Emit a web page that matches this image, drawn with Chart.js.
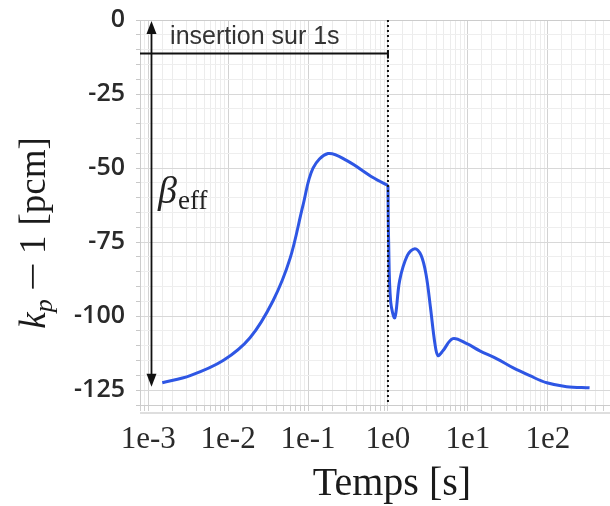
<!DOCTYPE html>
<html>
<head>
<meta charset="utf-8">
<script src="https://cdn.jsdelivr.net/npm/chart.js@4.4.1/dist/chart.umd.min.js"></script>
<style>
  html, body { margin: 0; padding: 0; background: #fff; }
  canvas { display: block; }
</style>
</head>
<body>
<canvas id="kp" width="610" height="506"></canvas>
<script>
// time in seconds, reactivity k_p - 1 in pcm
const times = [0.0015, 0.00335, 0.00866, 0.0188, 0.0365, 0.0596, 0.0866, 0.1155, 0.178, 0.307, 0.649, 1.0,
  1.02, 1.08, 1.22, 1.4, 1.75, 2.17, 2.6, 3.0, 3.4, 3.87, 4.22, 4.87, 6.49, 9.7, 14.1, 23.1, 36.5, 59.6, 97, 172, 333];
const kp = [-122.5, -120.1, -115.0, -107.3, -94.8, -80.5, -62.5, -50.0, -45.1, -47.5, -53.2, -55.9,
  -75, -95, -100.5, -88, -79.5, -77.2, -79.5, -86, -97, -109.3, -113.3, -111.7, -107.6, -109.3, -111.7, -114.4, -117.4, -120.1, -122.5, -123.8, -124.2];

const yTicks = [0, -25, -50, -75, -100, -125];
const xTickLabels = ['1e-3', '1e-2', '1e-1', '1e0', '1e1', '1e2'];

const insertionEnd = 1;      // s
const insertionLevel = -11.3;
const betaTop = -0.3, betaBottom = -123.8;
const betaX = 0.0011;

function isDecade(v) {
  const e = Math.log10(v);
  return Math.abs(e - Math.round(e)) < 1e-6;
}

const pts = times.map((t, i) => ({ x: t, y: kp[i] }));
const cut = times.indexOf(insertionEnd);

const annot = {
  id: 'annot',
  afterDatasetsDraw(chart) {
    const { ctx, chartArea: a } = chart;
    const x = chart.scales.x, y = chart.scales.y;
    ctx.save();
    // frame
    ctx.strokeStyle = '#cccccc';
    ctx.lineWidth = 1;
    ctx.strokeRect(a.left + 0.5, a.top + 0.5, a.right - a.left, a.bottom - a.top);
    ctx.beginPath();
    ctx.moveTo(a.left, a.bottom + 8);
    ctx.lineTo(a.right, a.bottom + 8);
    ctx.strokeStyle = '#bdbdbd';
    ctx.stroke();

    // dotted line at end of insertion
    const xe = x.getPixelForValue(insertionEnd);
    ctx.strokeStyle = '#111';
    ctx.lineWidth = 2;
    ctx.setLineDash([2, 3]);
    ctx.beginPath();
    ctx.moveTo(xe, a.top);
    ctx.lineTo(xe, a.bottom);
    ctx.stroke();
    ctx.setLineDash([]);

    // horizontal insertion line
    const yl = y.getPixelForValue(insertionLevel);
    ctx.beginPath();
    ctx.moveTo(a.left, yl);
    ctx.lineTo(xe, yl);
    ctx.moveTo(xe, yl - 3);
    ctx.lineTo(xe, yl + 5);
    ctx.stroke();

    // beta_eff double arrow
    const xb = x.getPixelForValue(betaX);
    const yt = y.getPixelForValue(betaTop), yb = y.getPixelForValue(betaBottom);
    ctx.lineWidth = 1.8;
    ctx.beginPath();
    ctx.moveTo(xb, yt + 10);
    ctx.lineTo(xb, yb - 10);
    ctx.stroke();
    ctx.fillStyle = '#111';
    ctx.beginPath();
    ctx.moveTo(xb, yt); ctx.lineTo(xb - 5, yt + 13); ctx.lineTo(xb + 5, yt + 13); ctx.closePath();
    ctx.fill();
    ctx.beginPath();
    ctx.moveTo(xb, yb); ctx.lineTo(xb - 5, yb - 13); ctx.lineTo(xb + 5, yb - 13); ctx.closePath();
    ctx.fill();

    // text
    ctx.fillStyle = '#333';
    ctx.font = '25px "Liberation Sans"';
    ctx.textBaseline = 'middle';
    ctx.textAlign = 'left';
    ctx.fillText('insertion sur 1s', x.getPixelForValue(0.00188), y.getPixelForValue(-5.9));

    // beta_eff
    const bx = x.getPixelForValue(0.00133), by = y.getPixelForValue(-58.3);
    ctx.fillStyle = '#222';
    ctx.textBaseline = 'alphabetic';
    ctx.font = 'italic 38px "Liberation Serif"';
    ctx.fillText('β', bx, by + 10);
    const bw = ctx.measureText('β').width;
    ctx.font = '27px "Liberation Serif"';
    ctx.fillText('eff', bx + bw + 1, by + 16);
    ctx.restore();
  },
  afterDraw(chart) {
    const { ctx } = chart;
    ctx.save();
    ctx.fillStyle = '#1a1a1a';
    // x title
    ctx.font = '40px "Liberation Serif"';
    ctx.textAlign = 'center';
    ctx.textBaseline = 'alphabetic';
    ctx.fillText('Temps [s]', 392, 495);

    // y title, rotated
    ctx.translate(45, 233);
    ctx.rotate(-Math.PI / 2);
    const big = 37, small = 26;
    const parts = [
      { t: 'k', f: 'italic ' + big + 'px "Liberation Serif"', dy: 0, gap: 0 },
      { t: 'p', f: 'italic ' + small + 'px "Liberation Serif"', dy: 7, gap: 8 },
      { t: '\u2212', f: big + 'px "Liberation Serif"', dy: 0, gap: 8, sx: 1.4 },
      { t: '1', f: big + 'px "Liberation Serif"', dy: 0, gap: 10 },
      { t: '[pcm]', f: big + 'px "Liberation Serif"', dy: 0, gap: 0 }
    ];
    let total = 0;
    parts.forEach(p => {
      ctx.font = p.f;
      p.w = ctx.measureText(p.t).width * (p.sx || 1);
      total += p.w + p.gap;
    });
    let cx = -total / 2;
    ctx.textAlign = 'left';
    parts.forEach(p => {
      ctx.font = p.f;
      if (p.sx) {
        ctx.save();
        ctx.translate(cx, p.dy);
        ctx.scale(p.sx, 1);
        ctx.fillText(p.t, 0, 0);
        ctx.restore();
      } else {
        ctx.fillText(p.t, cx, p.dy);
      }
      cx += p.w + p.gap;
    });
    ctx.restore();
  }
};

const lineStyle = {
  borderColor: '#2e56e4',
  borderWidth: 3,
  pointRadius: 0,
  tension: 0.35,
  fill: false
};

new Chart(document.getElementById('kp'), {
  type: 'line',
  plugins: [annot],
  data: {
    datasets: [
      Object.assign({ data: pts.slice(0, cut + 1) }, lineStyle),
      Object.assign({ data: pts.slice(cut) }, lineStyle)
    ]
  },
  options: {
    responsive: false,
    animation: false,
    devicePixelRatio: 1,
    layout: { padding: { top: 20, right: 0, left: 0, bottom: 0 } },
    plugins: {
      legend: { display: false },
      tooltip: { enabled: false }
    },
    scales: {
      x: {
        type: 'logarithmic',
        min: 0.00079,
        max: 600,
        afterFit: s => { s.height = 101; s.paddingLeft = 0; s.paddingRight = 0; },
        border: { color: '#c4c4c4' },
        grid: {
          color: ctx => (ctx.tick && isDecade(ctx.tick.value)) ? '#d2d2d2' : '#ececec',
          tickLength: 6,
          tickColor: '#d0d0d0'
        },
        ticks: {
          autoSkip: false,
          maxRotation: 0,
          padding: 10,
          color: '#2a2a2a',
          font: { family: 'Liberation Serif', size: 31 },
          callback: function (value) {
            if (!isDecade(value)) return '';
            const lbl = '1e' + Math.round(Math.log10(value));
            return xTickLabels.includes(lbl) ? lbl : '';
          }
        }
      },
      y: {
        min: -130,
        max: 0,
        afterFit: s => { s.width = 140; s.paddingTop = 0; s.paddingBottom = 0; },
        border: { color: '#c4c4c4' },
        grid: {
          color: ctx => (ctx.tick && yTicks.includes(Math.round(ctx.tick.value))) ? '#d8d8d8' : '#eeeeee',
          tickLength: 4,
          tickColor: '#c8c8c8'
        },
        ticks: {
          stepSize: 5,
          autoSkip: false,
          padding: 11,
          color: '#2a2a2a',
          font: { family: 'Open Sans', size: 25, weight: '600' },
          callback: v => yTicks.includes(Math.round(v)) ? String(Math.round(v)) : ''
        }
      }
    }
  }
});
</script>
</body>
</html>
